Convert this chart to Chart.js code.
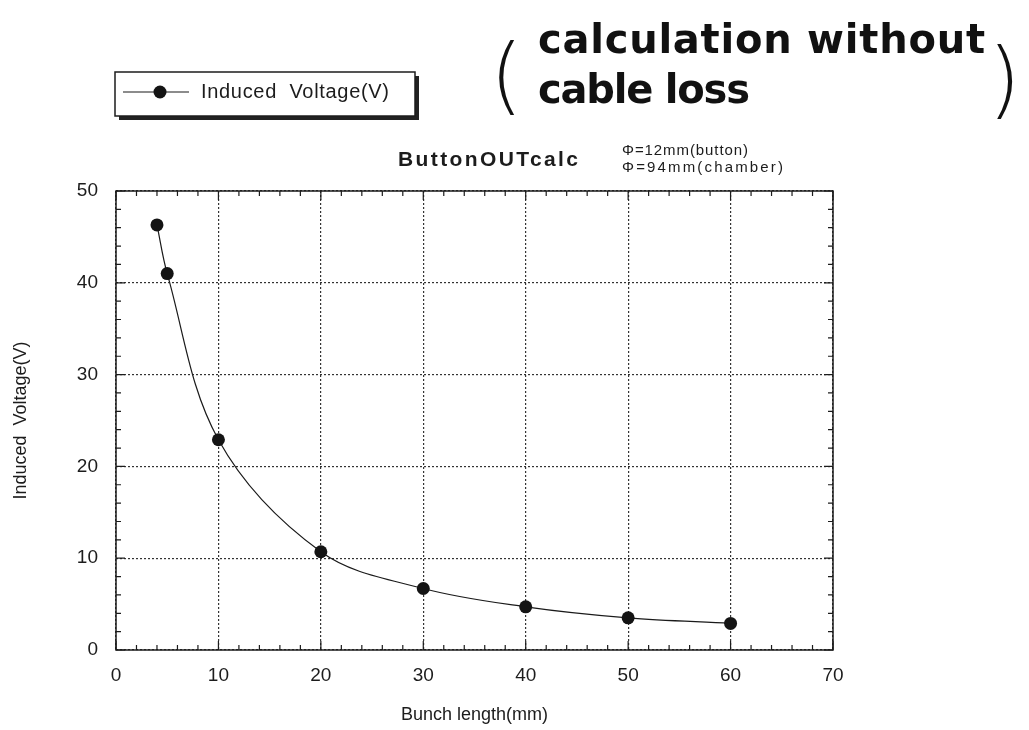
<!DOCTYPE html>
<html>
<head>
<meta charset="utf-8">
<title>ButtonOUTcalc</title>
<script src="https://cdn.jsdelivr.net/npm/chart.js@4/dist/chart.umd.min.js"></script>
<style>
  html, body { margin: 0; padding: 0; background: #fff; }
  #chart { display: block; }
</style>
</head>
<body>
<canvas id="chart" width="1029" height="730"></canvas>
<script>
// bunch length (mm) vs induced voltage (V), button pickup
const bunchLength = [4, 5, 10, 20, 30, 40, 50, 60];
const inducedVoltage = [46.3, 41.0, 22.9, 10.7, 6.7, 4.7, 3.5, 2.9];
const xTickValues = [0, 10, 20, 30, 40, 50, 60, 70];
const yTickValues = [0, 10, 20, 30, 40, 50];
const seriesLabel = 'Induced  Voltage(V)';
const chartTitle = 'ButtonOUTcalc';
const sizeNotes = ['\u03A6=12mm(button)', '\u03A6=94mm(chamber)'];
const noteLines = ['calculation without', 'cable loss'];

const INK = '#1c1c1c';
const FONT = '"Liberation Sans", Arial, sans-serif';

// text spread out to a given width (the old plotter fonts are very airy)
function fitText(ctx, text, x, y, width) {
    ctx.letterSpacing = '0px';
    const w = ctx.measureText(text).width;
    const gap = text.length > 1 ? (width - w) / (text.length - 1) : 0;
    ctx.letterSpacing = gap + 'px';
    ctx.fillText(text, x, y);
    ctx.letterSpacing = '0px';
}

const decorations = {
    id: 'decorations',
    afterDraw(chart) {
        const ctx = chart.ctx;
        const { left, right, top, bottom } = chart.chartArea;
        const xs = chart.scales.x, ys = chart.scales.y;
        ctx.save();

        // frame
        ctx.strokeStyle = INK;
        ctx.lineWidth = 1.5;
        ctx.strokeRect(left, top, right - left, bottom - top);

        // inward ticks on all four sides, minor every 2
        ctx.lineWidth = 1.2;
        ctx.beginPath();
        for (let v = xs.min; v <= xs.max + 1e-9; v += 2) {
            const px = xs.getPixelForValue(v);
            const len = v % 10 === 0 ? 9 : 5;
            ctx.moveTo(px, bottom); ctx.lineTo(px, bottom - len);
            ctx.moveTo(px, top); ctx.lineTo(px, top + len);
        }
        for (let v = ys.min; v <= ys.max + 1e-9; v += 2) {
            const py = ys.getPixelForValue(v);
            const len = v % 10 === 0 ? 9 : 5;
            ctx.moveTo(left, py); ctx.lineTo(left + len, py);
            ctx.moveTo(right, py); ctx.lineTo(right - len, py);
        }
        ctx.stroke();

        // title and size notes
        ctx.fillStyle = INK;
        ctx.textBaseline = 'middle';
        ctx.textAlign = 'left';
        ctx.font = 'bold 21px ' + FONT;
        fitText(ctx, chartTitle, 398, 160, 180);
        ctx.font = '15px ' + FONT;
        fitText(ctx, sizeNotes[0], 622, 151, 126);
        fitText(ctx, sizeNotes[1], 622, 168, 161);

        // legend box with drop shadow
        const lx = 115, ly = 72, lw = 300, lh = 44;
        ctx.fillStyle = '#222';
        ctx.fillRect(lx + 4, ly + 4, lw, lh);
        ctx.fillStyle = '#fff';
        ctx.fillRect(lx, ly, lw, lh);
        ctx.strokeStyle = INK;
        ctx.lineWidth = 1.5;
        ctx.strokeRect(lx, ly, lw, lh);
        const ds = chart.data.datasets[0];
        ctx.strokeStyle = ds.borderColor;
        ctx.lineWidth = ds.borderWidth;
        ctx.beginPath();
        ctx.moveTo(lx + 8, ly + 20); ctx.lineTo(lx + 74, ly + 20);
        ctx.stroke();
        ctx.fillStyle = ds.pointBackgroundColor;
        ctx.beginPath();
        ctx.arc(lx + 45, ly + 20, ds.pointRadius, 0, Math.PI * 2);
        ctx.fill();
        ctx.fillStyle = INK;
        ctx.font = '20px ' + FONT;
        fitText(ctx, ds.label, lx + 86, ly + 20, 188);

        // pen note in the corner
        ctx.fillStyle = '#111';
        ctx.font = 'bold 40px "DejaVu Sans", sans-serif';
        ctx.textBaseline = 'alphabetic';
        fitText(ctx, noteLines[0], 538, 53, 447);
        fitText(ctx, noteLines[1], 538, 103, 212);
        ctx.font = '300 84px "DejaVu Sans", sans-serif';
        ctx.fillText('(', 490, 104);
        ctx.fillText(')', 988, 108);

        ctx.restore();
    }
};

new Chart(document.getElementById('chart'), {
    type: 'scatter',
    data: {
        datasets: [{
            label: seriesLabel,
            data: bunchLength.map((x, i) => ({ x: x, y: inducedVoltage[i] })),
            showLine: true,
            tension: 0.35,
            borderColor: '#1a1a1a',
            borderWidth: 1.2,
            pointRadius: 6.5,
            pointBackgroundColor: '#141414',
            pointBorderWidth: 0,
            pointHoverRadius: 6.5
        }]
    },
    options: {
        responsive: false,
        animation: false,
        events: [],
        layout: { padding: { top: 191, right: 196, bottom: 0, left: 0 } },
        plugins: {
            legend: { display: false },
            title: { display: false },
            tooltip: { enabled: false }
        },
        scales: {
            x: {
                type: 'linear',
                min: 0, max: 70,
                afterFit: s => { s.height = 80; },
                afterBuildTicks: s => { s.ticks = xTickValues.map(v => ({ value: v })); },
                grid: { color: '#333', lineWidth: 1.2, drawTicks: false },
                border: { display: false, dash: [2, 2] },
                ticks: { color: INK, font: { family: FONT, size: 19 }, padding: 14, maxRotation: 0 },
                title: { display: true, text: 'Bunch length(mm)', color: INK, font: { family: FONT, size: 18 }, padding: { top: 0, bottom: 4 } }
            },
            y: {
                type: 'linear',
                min: 0, max: 50,
                afterFit: s => { s.width = 116; },
                afterBuildTicks: s => { s.ticks = yTickValues.map(v => ({ value: v })); },
                grid: { color: '#333', lineWidth: 1.2, drawTicks: false },
                border: { display: false, dash: [2, 2] },
                ticks: { color: INK, font: { family: FONT, size: 19 }, padding: 18 },
                title: { display: true, text: 'Induced  Voltage(V)', color: INK, font: { family: FONT, size: 18 }, padding: { top: 10, bottom: 0 } }
            }
        }
    },
    plugins: [decorations]
});
</script>
</body>
</html>
